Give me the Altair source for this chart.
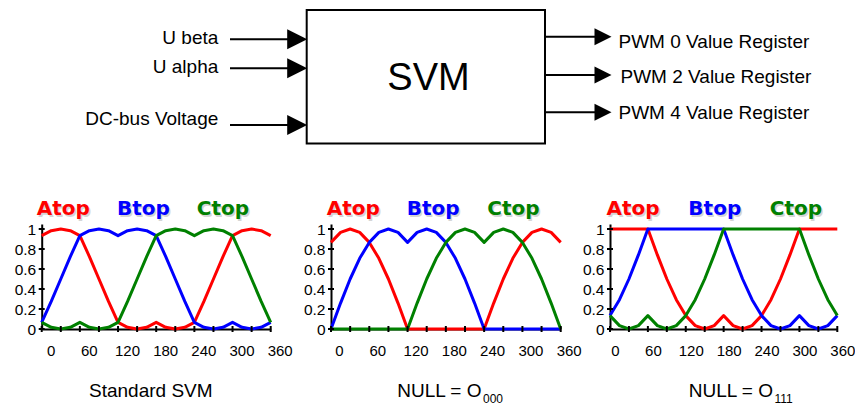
import altair as alt
import pandas as pd

# ---------------- data ----------------
DEG = [0, 15, 30, 45, 60, 75, 90, 105, 120, 135, 150, 165, 180,
       195, 210, 225, 240, 255, 270, 285, 300, 315, 330, 345, 360]

PHASES = ["Atop", "Btop", "Ctop"]
PHASE_COLORS = ["#ff0000", "#0000ff", "#008000"]

# Standard SVM
STD_A = [0.933, 0.983, 1.0, 0.983, 0.933, 0.724, 0.5, 0.276, 0.067, 0.017, 0.0, 0.017, 0.067,
         0.017, 0.0, 0.017, 0.067, 0.276, 0.5, 0.724, 0.933, 0.983, 1.0, 0.983, 0.933]
STD_B = [0.067, 0.276, 0.5, 0.724, 0.933, 0.983, 1.0, 0.983, 0.933, 0.983, 1.0, 0.983, 0.933,
         0.724, 0.5, 0.276, 0.067, 0.017, 0.0, 0.017, 0.067, 0.017, 0.0, 0.017, 0.067]
STD_C = [0.067, 0.017, 0.0, 0.017, 0.067, 0.017, 0.0, 0.017, 0.067, 0.276, 0.5, 0.724, 0.933,
         0.983, 1.0, 0.983, 0.933, 0.983, 1.0, 0.983, 0.933, 0.724, 0.5, 0.276, 0.067]

# NULL = O000
N000_A = [0.866, 0.966, 1.0, 0.966, 0.866, 0.707, 0.5, 0.259, 0.0, 0.0, 0.0, 0.0, 0.0,
          0.0, 0.0, 0.0, 0.0, 0.259, 0.5, 0.707, 0.866, 0.966, 1.0, 0.966, 0.866]
N000_B = [0.0, 0.259, 0.5, 0.707, 0.866, 0.966, 1.0, 0.966, 0.866, 0.966, 1.0, 0.966, 0.866,
          0.707, 0.5, 0.259, 0.0, 0.0, 0.0, 0.0, 0.0, 0.0, 0.0, 0.0, 0.0]
N000_C = [0.0, 0.0, 0.0, 0.0, 0.0, 0.0, 0.0, 0.0, 0.0, 0.259, 0.5, 0.707, 0.866,
          0.966, 1.0, 0.966, 0.866, 0.966, 1.0, 0.966, 0.866, 0.707, 0.5, 0.259, 0.0]

# NULL = O111
N111_A = [1.0, 1.0, 1.0, 1.0, 1.0, 0.741, 0.5, 0.293, 0.134, 0.034, 0.0, 0.034, 0.134,
          0.034, 0.0, 0.034, 0.134, 0.293, 0.5, 0.741, 1.0, 1.0, 1.0, 1.0, 1.0]
N111_B = [0.134, 0.293, 0.5, 0.741, 1.0, 1.0, 1.0, 1.0, 1.0, 1.0, 1.0, 1.0, 1.0,
          0.741, 0.5, 0.293, 0.134, 0.034, 0.0, 0.034, 0.134, 0.034, 0.0, 0.034, 0.134]
N111_C = [0.134, 0.034, 0.0, 0.034, 0.134, 0.034, 0.0, 0.034, 0.134, 0.293, 0.5, 0.741, 1.0,
          1.0, 1.0, 1.0, 1.0, 1.0, 1.0, 1.0, 1.0, 0.741, 0.5, 0.293, 0.134]

X_TICKS = [0, 30, 60, 90, 120, 150, 180, 210, 240, 270, 300, 330, 360]
X_LABELS = [0, 60, 120, 180, 240, 300, 360]
Y_TICKS = [0, 0.2, 0.4, 0.6, 0.8, 1]

CAPTION_MAIN = ["Standard SVM", "NULL = O", "NULL = O"]
CAPTION_SUB = ["", "000", "111"]

INPUTS = ["U beta", "U alpha", "DC-bus Voltage"]
OUTPUTS = ["PWM 0 Value Register", "PWM 2 Value Register", "PWM 4 Value Register"]
BLOCK_LABEL = ["SVM"]

# ---------------- layout (page pixels) ----------------
ORIGIN = 8
W, H = 847, 397
FONT = "Liberation Sans"
TITLE_FONT = "DejaVu Sans"


def px(v):
    return v - ORIGIN


PANELS = [
    dict(a=STD_A, b=STD_B, c=STD_C, x0=41.7, x1=270.7, tx=[34, 160, 285], cap_deg=171.5,
         align="center", lab_off=9),
    dict(a=N000_A, b=N000_B, c=N000_C, x0=331.0, x1=560.7, tx=[35, 160, 286], cap_deg=235.9,
         align="right", lab_off=8),
    dict(a=N111_A, b=N111_B, c=N111_C, x0=610.0, x1=837.3, tx=[36.5, 166, 294.6], cap_deg=258.2,
         align="right", lab_off=5),
]
Y_ZERO_PX, Y_TOP_PX = 329, 224
Y_MAX = 1.05

color_enc = alt.Color("phase:N", scale=alt.Scale(domain=PHASES, range=PHASE_COLORS), legend=None)


def make_panel(i, p):
    xs = alt.Scale(domain=[0, 360], range=[px(p["x0"]), px(p["x1"])], nice=False, zero=False)
    ys = alt.Scale(domain=[0, Y_MAX], range=[px(Y_ZERO_PX), px(Y_TOP_PX)], nice=False, zero=False)
    df = pd.DataFrame({
        "deg": DEG * 3,
        "duty": p["a"] + p["b"] + p["c"],
        "phase": [ph for ph in PHASES for _ in DEG],
    })
    x_axis = alt.Axis(values=X_LABELS, orient="bottom", offset=px(Y_ZERO_PX) - H, ticks=False, tickSize=0,
                      grid=False, domainColor="black", domainWidth=2, labelColor="black",
                      labelFont=FONT, labelFontSize=15, labelBaseline="alphabetic", labelPadding=26,
                      labelOffset=p["lab_off"], labelFlush=False, labelOverlap=False, title=None)
    y_axis = alt.Axis(values=Y_TICKS, orient="left", offset=-px(p["x0"]), ticks=False, tickSize=0,
                      grid=False, domainColor="black", domainWidth=2, labelColor="black",
                      labelFont=FONT, labelFontSize=15.5, labelPadding=6, format=".1~f",
                      labelOverlap=False, title=None)
    lines = alt.Chart(df).mark_line(strokeWidth=3, strokeJoin="round").encode(
        x=alt.X("deg:Q", scale=xs, axis=x_axis),
        y=alt.Y("duty:Q", scale=ys, axis=y_axis),
        color=color_enc,
    )
    # the other layers leave the axis unspecified so that it merges with the one above
    xt = alt.Chart(pd.DataFrame({"deg": X_TICKS})).mark_tick(
        orient="vertical", size=6, thickness=2, color="black", opacity=1
    ).encode(x=alt.X("deg:Q"), y=alt.YDatum(datum=0))
    yt = alt.Chart(pd.DataFrame({"duty": Y_TICKS})).mark_tick(
        orient="horizontal", size=6, thickness=2, color="black", opacity=1
    ).encode(y=alt.Y("duty:Q"), x=alt.XDatum(datum=0))

    tdf = pd.DataFrame({"phase": PHASES, "deg": p["tx"]})
    shadow = alt.Chart(tdf).mark_text(
        font=TITLE_FONT, fontWeight="bold", fontSize=20, align="center", baseline="alphabetic",
        dx=1.5, dy=1.5, color="#888888", opacity=0.35
    ).encode(x=alt.X("deg:Q"), y=alt.YDatum(datum=1.14), text="phase:N")
    titles = alt.Chart(tdf).mark_text(
        font=TITLE_FONT, fontWeight="bold", fontSize=20, align="center", baseline="alphabetic"
    ).encode(x=alt.X("deg:Q"), y=alt.YDatum(datum=1.14), text="phase:N", color=color_enc)

    cap = alt.Chart(pd.DataFrame({"t": [CAPTION_MAIN[i]]})).mark_text(
        font=FONT, fontSize=19, align=p["align"], baseline="alphabetic", color="black"
    ).encode(x=alt.XDatum(datum=p["cap_deg"]), y=alt.YDatum(datum=-0.68), text="t:N")
    layers = [lines, xt, yt, shadow, titles, cap]
    if CAPTION_SUB[i]:
        sub = alt.Chart(pd.DataFrame({"t": [CAPTION_SUB[i]]})).mark_text(
            font=FONT, fontSize=12, align="left", baseline="alphabetic", color="black", dx=1.5
        ).encode(x=alt.XDatum(datum=p["cap_deg"]), y=alt.YDatum(datum=-0.74), text="t:N")
        layers.append(sub)
    return alt.layer(*layers)


# ---------------- block diagram ----------------
dxs = alt.Scale(domain=[ORIGIN, ORIGIN + W], range=[0, W], nice=False, zero=False)
dys = alt.Scale(domain=[ORIGIN, ORIGIN + H], range=[0, H], nice=False, zero=False)
TRI = "M-1,-1L1,0L-1,1Z"

box = alt.Chart(pd.DataFrame({"x": [306.7], "x2": [545.0], "y": [10.0], "y2": [143.5]})).mark_rect(
    fill="white", stroke="black", strokeWidth=2
).encode(x=alt.X("x:Q", scale=dxs, axis=None), x2="x2:Q",
         y=alt.Y("y:Q", scale=dys, axis=None), y2="y2:Q")

in_df = pd.DataFrame({"label": INPUTS, "yl": [39.3, 68.3, 125.0], "yt": [44.3, 72.7, 125.0],
                      "xa": [230.0] * 3, "xb": [290.0] * 3})
in_lines = alt.Chart(in_df).mark_rule(strokeWidth=2, color="black").encode(
    x=alt.X("xa:Q", axis=None), x2="xb:Q", y=alt.Y("yl:Q", axis=None))
in_heads = alt.Chart(in_df).mark_point(shape=TRI, filled=True, size=400, color="black", opacity=1).encode(
    x=alt.XDatum(datum=297.2, axis=None), y=alt.Y("yl:Q", axis=None))
in_text = alt.Chart(in_df).mark_text(font=FONT, fontSize=19, align="right", baseline="alphabetic",
                                     color="black").encode(
    x=alt.XDatum(datum=218.3, axis=None), y=alt.Y("yt:Q", axis=None), text="label:N")

out_df = pd.DataFrame({"label": OUTPUTS, "yl": [36.7, 75.0, 112.3], "yt": [48.3, 83.3, 119.0],
                       "xa": [545.0] * 3, "xb": [597.0] * 3, "xt": [618.5, 620.5, 618.5]})
out_lines = alt.Chart(out_df).mark_rule(strokeWidth=2, color="black").encode(
    x=alt.X("xa:Q", axis=None), x2="xb:Q", y=alt.Y("yl:Q", axis=None))
out_heads = alt.Chart(out_df).mark_point(shape=TRI, filled=True, size=289, color="black", opacity=1).encode(
    x=alt.XDatum(datum=603.0, axis=None), y=alt.Y("yl:Q", axis=None))
out_text = alt.Chart(out_df).mark_text(font=FONT, fontSize=19, align="left", baseline="alphabetic",
                                      color="black").encode(
    x=alt.X("xt:Q", axis=None), y=alt.Y("yt:Q", axis=None), text="label:N")

svm_text = alt.Chart(pd.DataFrame({"label": BLOCK_LABEL})).mark_text(
    font=FONT, fontSize=38, align="center", baseline="alphabetic", color="black"
).encode(x=alt.XDatum(datum=428.5, axis=None), y=alt.YDatum(datum=90.0, axis=None), text="label:N")

diagram = alt.layer(box, in_lines, in_heads, in_text, out_lines, out_heads, out_text, svm_text)

panels = [make_panel(i, p) for i, p in enumerate(PANELS)]

chart = alt.layer(diagram, *panels).resolve_scale(
    x="independent", y="independent"
).resolve_axis(
    x="independent", y="independent"
).properties(
    width=W, height=H, autosize=alt.AutoSizeParams(type="none"), padding=0
).configure_view(stroke=None)

chart.save("out.html", embed_options={"renderer": "svg", "actions": False})
